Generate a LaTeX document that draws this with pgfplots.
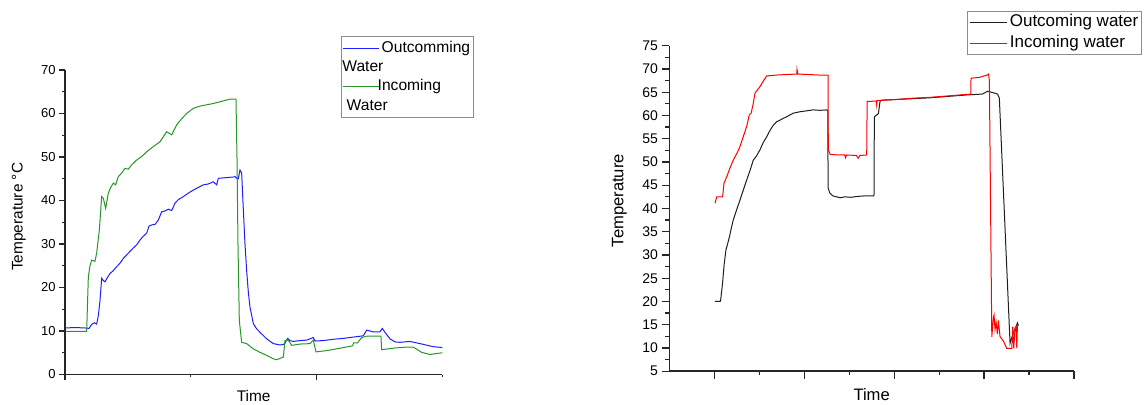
\documentclass[border=0pt]{standalone}
\usepackage{fontspec}
\setmainfont{Liberation Sans}
\usepackage{pgfplots}
\pgfplotsset{compat=1.18}
\definecolor{cblue}{RGB}{30,30,255}
\definecolor{cgreen}{RGB}{40,150,40}
\definecolor{cred}{RGB}{255,0,0}
\definecolor{cblack}{RGB}{30,30,30}
\pgfplotsset{
  mystyle/.style={
    scale only axis, anchor=south west,
    axis x line*=bottom, axis y line*=left,
    axis line style={-, line width=0.8pt, black!85},
    tick align=outside,
    every tick/.style={black!85, line width=0.6pt},
    /pgf/number format/assume math mode=true,
    xticklabels={},
    yticklabel style={xshift=1.6pt},
    legend cell align=left,
  }
}
\begin{document}
\begin{tikzpicture}
\useasboundingbox (0,0) rectangle (573pt,202pt);
% ---------------- left chart ----------------
\begin{axis}[mystyle,
  at={(32.5pt,14.75pt)},
  width=188.65pt, height=152.25pt,
  xmin=0, xmax=1132, ymin=0, ymax=70,
  xtick={0,754.7}, minor xtick={377.3,1132},
  ytick={0,10,...,70}, minor y tick num=1,
  major tick length=2.8pt, minor tick length=1.4pt,
  tick label style={font=\fontsize{6.5}{7}\selectfont},
  xlabel={Time}, ylabel={Temperature °C},
  label style={font=\fontsize{7.7}{9}\selectfont},
  xlabel style={at={(axis description cs:0.5,-0.0706)}, anchor=center},
  ylabel style={at={(axis description cs:-0.1224,0.518)}, anchor=center},
  legend style={at={(0.7315,1.1117)}, anchor=north west, draw=black!45, line width=0.5pt,
    fill=white, inner xsep=0.6pt, inner ysep=1.2pt, row sep=0.4pt,
    font=\fontsize{7.8}{9}\selectfont,
    nodes={inner xsep=1.2pt, inner ysep=0.6pt, text height=6.2pt, text depth=1.8pt}},
  legend image code/.code={\draw[#1] (0pt,0pt) -- (17.8pt,0pt);},
]
\addplot[cblue, line width=0.5pt] coordinates {
(2,10.7) (30,10.8) (60,10.7) (72,10.6) (80,11.5) (88,11.9) (95,11.6) (100,13.5) (105,17.0)
(110,22.1) (115,21.6) (120,21.3) (128,22.4) (135,23.2) (145,23.9) (155,24.8) (165,25.6)
(175,26.7) (185,27.5) (195,28.3) (205,29.1) (215,29.8) (225,30.9) (235,31.8) (245,32.5)
(252,34.1) (260,34.4) (270,34.5) (280,35.5) (290,37.4) (300,37.6) (310,38.0) (320,37.7)
(325,38.5) (330,39.4) (340,40.2) (355,40.9) (370,41.7) (385,42.4) (400,43.0) (415,43.6)
(430,43.8) (445,44.3) (455,43.6) (460,45.1) (475,45.2) (490,45.3) (505,45.4) (510,45.5)
(515,45.1) (520,45.0) (525,47.0) (530,46.3) (535,38.0) (540,30.0) (545,23.9) (550,19.0)
(555,15.5) (565,11.7) (575,10.5) (585,9.7) (605,8.2) (625,7.1) (645,6.8) (655,6.9)
(660,7.2) (668,8.3) (675,7.8) (685,7.6) (705,7.8) (725,7.9) (745,8.5) (750,7.7)
(775,7.8) (805,8.1) (835,8.3) (865,8.6) (895,8.9) (905,10.2) (925,9.8) (945,9.8)
(952,10.6) (960,9.7) (975,8.2) (990,7.5) (1005,7.4) (1035,7.6) (1065,7.1) (1105,6.4) (1132,6.2)
};
\addlegendentry{Outcomming}
\addlegendimage{empty legend}
\addlegendentry{\hspace*{-19.65pt}Water}
\addplot[cgreen, line width=0.5pt] coordinates {
(2,9.9) (30,9.9) (65,9.9) (70,22.4) (75,25.0) (80,26.3) (90,26.0) (95,27.9) (103,33.2)
(110,40.9) (115,40.5) (122,38.2) (130,41.7) (137,43.0) (145,44.0) (152,43.6) (160,45.5)
(170,46.3) (180,47.4) (190,47.2) (200,48.2) (215,49.3) (230,50.1) (245,51.2) (265,52.4)
(285,53.5) (305,55.8) (320,55.1) (335,57.4) (350,58.8) (365,60.0) (385,61.2) (405,61.7)
(425,62.0) (445,62.3) (465,62.7) (485,63.1) (495,63.3) (513,63.3) (516,50.0) (519,30.0)
(523,12.4) (530,7.4) (545,7.1) (565,5.9) (585,5.1) (605,4.4) (625,3.6) (635,3.4)
(655,4.0) (660,7.8) (670,7.9) (680,6.7) (705,7.0) (735,7.1) (745,7.9) (753,5.2)
(785,5.5) (815,5.9) (863,6.6) (866,7.3) (878,7.3) (890,8.5) (905,8.8) (948,8.8)
(950,5.7) (990,6.1) (1025,6.3) (1045,6.3) (1070,5.1) (1095,4.6) (1132,5.0)
};
\addlegendentry{\hspace*{-2pt}Incoming}
\addlegendimage{empty legend}
\addlegendentry{\hspace*{-17.5pt}Water}
\end{axis}
% ---------------- right chart ----------------
\begin{axis}[mystyle,
  at={(334.65pt,16.4pt)},
  width=202.35pt, height=162.75pt,
  xmin=-0.5, xmax=4, ymin=5, ymax=75,
  xtick={0,1,2,3,4}, minor xtick={0.5,1.5,2.5,3.5},
  ytick={5,10,...,75}, minor y tick num=1,
  major tick length=3.8pt, minor tick length=2pt,
  tick label style={font=\fontsize{7}{8}\selectfont},
  xlabel={Time}, ylabel={Temperature},
  label style={font=\fontsize{8.3}{10}\selectfont},
  xlabel style={at={(axis description cs:0.5,-0.0722)}, anchor=center},
  ylabel style={at={(axis description cs:-0.1235,0.524)}, anchor=center},
  legend style={at={(0.7364,1.1066)}, anchor=north west, draw=black!45, line width=0.5pt,
    fill=white, inner xsep=0.6pt, inner ysep=0.2pt, row sep=0pt,
    font=\fontsize{8.5}{10}\selectfont,
    nodes={inner xsep=1.2pt, inner ysep=1pt, text height=6.5pt, text depth=2pt}},
  legend image code/.code={\draw[#1] (0pt,0pt) -- (18.7pt,0pt);},
]
\addplot[cblack, line width=0.5pt] coordinates {
(0.008,20.0) (0.066,20.0) (0.071,20.3) (0.09,23.5) (0.11,28.0) (0.130,31.1) (0.15,32.5)
(0.17,34.0) (0.19,35.8) (0.211,37.5) (0.25,39.8) (0.286,41.8) (0.32,43.8) (0.360,46.1)
(0.40,48.3) (0.434,50.4) (0.47,51.3) (0.508,52.6) (0.545,54.2) (0.583,55.4) (0.62,56.8)
(0.656,57.9) (0.69,58.6) (0.731,59.0) (0.77,59.4) (0.805,59.7) (0.84,60.1) (0.879,60.5)
(0.953,60.8) (1.03,61.0) (1.101,61.2) (1.18,61.1) (1.250,61.2) (1.262,61.0) (1.266,44.4)
(1.285,43.3) (1.32,42.7) (1.40,42.3) (1.45,42.5) (1.52,42.4) (1.60,42.6) (1.67,42.7)
(1.776,42.7) (1.780,59.7) (1.825,60.4) (1.843,63.0) (1.86,63.3) (2.0,63.4) (2.2,63.6)
(2.4,63.8) (2.6,64.1) (2.8,64.4) (2.98,64.6) (3.041,65.2) (3.10,64.9) (3.15,64.6)
(3.170,63.7) (3.289,11.0) (3.326,13.3) (3.356,14.6) (3.371,15.4) (3.382,14.8)
};
\addlegendentry{Outcoming water}
\addplot[cred, line width=0.5pt] coordinates {
(0.008,41.1) (0.027,42.5) (0.093,42.5) (0.108,45.4) (0.138,46.8) (0.175,48.7) (0.211,50.4)
(0.25,51.8) (0.286,53.3) (0.325,55.6) (0.360,57.6) (0.389,60.1) (0.41,60.5) (0.434,62.6)
(0.453,64.8) (0.48,65.5) (0.508,66.2) (0.545,67.4) (0.583,68.5) (0.70,68.7) (0.80,68.8)
(0.917,68.9) (0.92,69.9) (0.93,68.9) (1.05,68.8) (1.15,68.7) (1.250,68.7) (1.265,68.7)
(1.268,52.6) (1.29,51.6) (1.40,51.5) (1.45,51.5) (1.46,50.9) (1.47,51.5) (1.58,51.4)
(1.60,50.8) (1.62,51.4) (1.695,51.5) (1.700,63.0) (1.80,63.1) (1.806,62.2) (1.81,63.2)
(2.0,63.4) (2.2,63.7) (2.4,63.9) (2.6,64.2) (2.852,64.6) (2.855,68.0) (2.95,68.2)
(3.037,68.7) (3.05,68.9) (3.059,67.5) (3.086,12.4) (3.104,16.5) (3.111,17.1) (3.122,14.0)
(3.134,15.5) (3.148,13.0) (3.159,15.9) (3.178,12.4) (3.215,11.5) (3.252,9.9) (3.308,9.9)
(3.319,14.6) (3.33,9.9) (3.345,14.3) (3.356,14.6) (3.364,9.9) (3.371,15.0)
};
\addlegendentry{Incoming water}
\end{axis}
\end{tikzpicture}
\end{document}
